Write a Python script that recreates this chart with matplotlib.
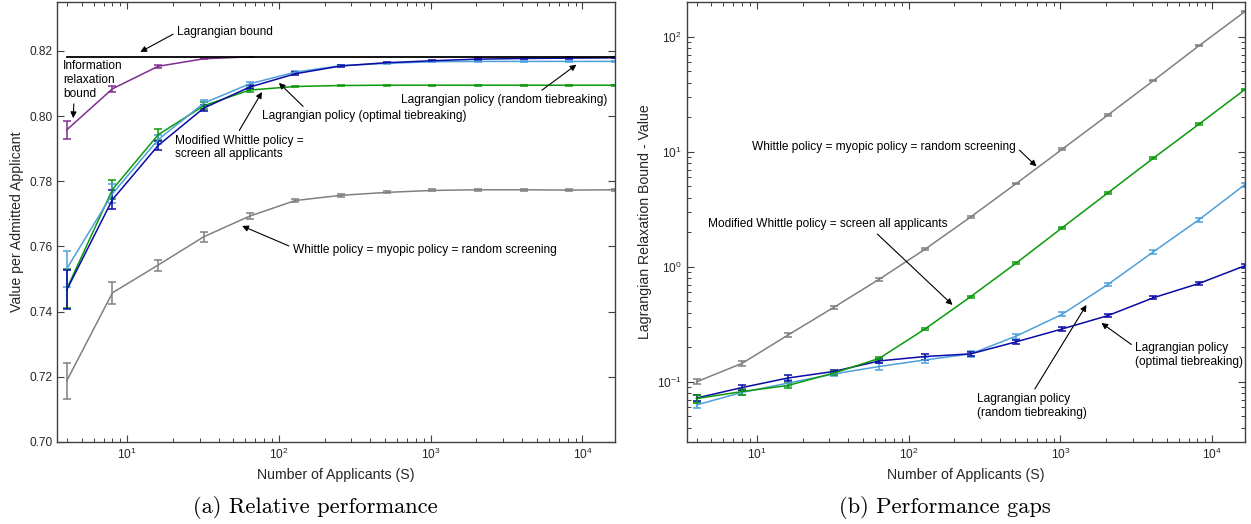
import matplotlib
matplotlib.use("Agg")
import matplotlib.pyplot as plt
import numpy as np

plt.rcParams['font.family'] = ['Liberation Sans', 'DejaVu Sans']
plt.rcParams['mathtext.fontset'] = 'custom'
plt.rcParams['mathtext.rm'] = 'Liberation Sans'
plt.rcParams['mathtext.it'] = 'Liberation Sans:italic'
plt.rcParams['mathtext.bf'] = 'Liberation Sans:bold'

# ---------------- data ----------------
S = [4, 8, 16, 32, 64, 128, 256, 512, 1024, 2048, 4096, 8192, 16384]

# panel (a): value per admitted applicant
S_info = [4, 8, 16, 32, 64]
info_bound = [0.7958, 0.8084, 0.8153, 0.8176, 0.8182]
info_err = [0.0028, 0.0010, 0.0005, 0.0002, 0.0001]
lagr_bound = 0.8182

mod_whittle_a = [0.7470, 0.7775, 0.7943, 0.8032, 0.8080, 0.8091, 0.8094, 0.8095, 0.8095, 0.8095, 0.8095, 0.8095, 0.8095]
mod_whittle_a_err = [0.0060, 0.0030, 0.0017, 0.0010, 0.0005, 0.0003, 0.0002, 0.0002, 0.0002, 0.0002, 0.0002, 0.0002, 0.0002]
lagr_opt_a = [0.7467, 0.7744, 0.7910, 0.8025, 0.8089, 0.8130, 0.8154, 0.8164, 0.8170, 0.8175, 0.8177, 0.8178, 0.8179]
lagr_opt_a_err = [0.0060, 0.0030, 0.0015, 0.0010, 0.0006, 0.0004, 0.0002, 0.0002, 0.0002, 0.0002, 0.0002, 0.0002, 0.0002]
lagr_rand_a = [0.7532, 0.7762, 0.7928, 0.8040, 0.8099, 0.8135, 0.8155, 0.8162, 0.8167, 0.8168, 0.8168, 0.8168, 0.8168]
lagr_rand_a_err = [0.0055, 0.0030, 0.0015, 0.0010, 0.0007, 0.0004, 0.0002, 0.0002, 0.0002, 0.0002, 0.0002, 0.0002, 0.0002]
whittle_a = [0.7188, 0.7458, 0.7543, 0.7630, 0.7693, 0.7741, 0.7757, 0.7766, 0.7772, 0.7774, 0.7774, 0.7773, 0.7774]
whittle_a_err = [0.0055, 0.0033, 0.0017, 0.0015, 0.0010, 0.0006, 0.0004, 0.0003, 0.0003, 0.0003, 0.0003, 0.0003, 0.0003]

# panel (b): Lagrangian relaxation bound - value
whittle_b = [0.100, 0.145, 0.255, 0.443, 0.78, 1.42, 2.71, 5.3, 10.5, 20.8, 41.5, 83.6, 165.0]
whittle_b_err = [0.005, 0.007, 0.010, 0.015, 0.020, 0.030, 0.050, 0.10, 0.20, 0.30, 0.60, 1.2, 2.0]
mod_whittle_b = [0.0715, 0.0824, 0.093, 0.119, 0.160, 0.288, 0.55, 1.08, 2.18, 4.38, 8.8, 17.4, 34.7]
mod_whittle_b_err = [0.006, 0.005, 0.005, 0.005, 0.006, 0.008, 0.012, 0.02, 0.04, 0.07, 0.13, 0.25, 0.5]
lagr_rand_b = [0.063, 0.081, 0.0975, 0.117, 0.136, 0.155, 0.175, 0.25, 0.386, 0.70, 1.35, 2.57, 5.17]
lagr_rand_b_err = [0.004, 0.004, 0.006, 0.005, 0.010, 0.010, 0.010, 0.012, 0.015, 0.025, 0.05, 0.10, 0.20]
lagr_opt_b = [0.0723, 0.0893, 0.108, 0.123, 0.152, 0.166, 0.175, 0.223, 0.288, 0.376, 0.538, 0.717, 1.02]
lagr_opt_b_err = [0.004, 0.005, 0.006, 0.005, 0.006, 0.010, 0.008, 0.010, 0.012, 0.012, 0.018, 0.02, 0.04]

yticks_a = [0.70, 0.72, 0.74, 0.76, 0.78, 0.80, 0.82]

# ---------------- style ----------------
C_PURPLE = '#7e2f8e'
C_GREEN = '#0a9a0a'
C_DBLUE = '#0a0aa5'
C_LBLUE = '#4da0dc'
C_GRAY = '#808080'
AX_COLOR = '#262626'
FS = 8.6
FS_LABEL = 10.2
LW = 1.1

fig = plt.figure(figsize=(12.51, 5.24), dpi=100)
axa = fig.add_axes([0.0456, 0.1565, 0.446, 0.8395])
axb = fig.add_axes([0.549, 0.1565, 0.446, 0.8395])


def style_axis(ax):
    ax.set_xscale('log')
    ax.set_xlim(3.45, 16384)
    for sp in ax.spines.values():
        sp.set_color('#404040')
        sp.set_linewidth(1.0)
    ax.tick_params(which='both', direction='in', top=True, right=True,
                   colors='#404040', labelcolor=AX_COLOR, labelsize=FS)
    ax.tick_params(which='major', length=5, width=0.8)
    ax.tick_params(which='minor', length=2.8, width=0.7)
    ax.set_xlabel('Number of Applicants (S)', fontsize=FS_LABEL, color=AX_COLOR, labelpad=4)


def eb(ax, x, y, e, color, z=2):
    ax.errorbar(x, y, yerr=e, color=color, lw=LW, capsize=3, capthick=LW,
                elinewidth=LW, zorder=z)


# ---- panel (a) ----
style_axis(axa)
axa.set_ylim(0.70, 0.835)
axa.set_yticks(yticks_a)
axa.set_yticklabels([f'{v:.2f}' for v in yticks_a])
axa.set_ylabel('Value per Admitted Applicant', fontsize=FS_LABEL, color=AX_COLOR, labelpad=4)

axa.plot([S[0], S[-1]], [lagr_bound, lagr_bound], color='black', lw=1.3, zorder=3)
eb(axa, S_info, info_bound, info_err, C_PURPLE)
eb(axa, S, whittle_a, whittle_a_err, C_GRAY)
eb(axa, S, mod_whittle_a, mod_whittle_a_err, C_GREEN)
eb(axa, S, lagr_rand_a, lagr_rand_a_err, C_LBLUE)
eb(axa, S, lagr_opt_a, lagr_opt_a_err, C_DBLUE)

arrow = dict(arrowstyle='-|>', color='black', lw=0.8, mutation_scale=9, shrinkA=1, shrinkB=0)


def ann(ax, txt, xy, xytext, ha='left', va='center', relpos=(0, 0.5)):
    ap = dict(arrow)
    ap['relpos'] = relpos
    ax.annotate(txt, xy=xy, xytext=xytext, ha=ha, va=va, fontsize=FS,
                color='black', arrowprops=ap, zorder=5)


ann(axa, 'Lagrangian bound', (12.2, 0.8197), (21.3, 0.8258), relpos=(0, 0.5))
ann(axa, 'Information\nrelaxation\nbound', (4.41, 0.7994), (3.79, 0.8111), relpos=(0.18, 0))
ann(axa, 'Lagrangian policy (optimal tiebreaking)', (100, 0.8102), (77.3, 0.8000), relpos=(0.22, 1))
ann(axa, 'Lagrangian policy (random tiebreaking)', (9120, 0.8158), (635, 0.8050), relpos=(0.66, 1))
ann(axa, 'Modified Whittle policy =\nscreen all applicants', (77.3, 0.8074), (20.7, 0.7904), relpos=(0.48, 1))
ann(axa, 'Whittle policy = myopic policy = random screening', (57.2, 0.7663), (123.6, 0.7589), relpos=(0, 0.7))

# ---- panel (b) ----
style_axis(axb)
axb.set_yscale('log')
axb.set_ylim(0.03, 200)
axb.tick_params(which='both', labelsize=FS)
axb.set_ylabel('Lagrangian Relaxation Bound - Value', fontsize=FS_LABEL, color=AX_COLOR, labelpad=4)

eb(axb, S, whittle_b, whittle_b_err, C_GRAY)
eb(axb, S, lagr_rand_b, lagr_rand_b_err, C_LBLUE)
eb(axb, S, lagr_opt_b, lagr_opt_b_err, C_DBLUE)
eb(axb, S, mod_whittle_b, mod_whittle_b_err, C_GREEN)

ann(axb, 'Whittle policy = myopic policy = random screening', (695, 7.46), (9.27, 11.1), relpos=(1, 0.5))
ann(axb, 'Modified Whittle policy = screen all applicants', (194.5, 0.466), (4.77, 2.34), relpos=(0.69, 0))
ann(axb, 'Lagrangian policy\n(random tiebreaking)', (1483, 0.466), (284, 0.0619), relpos=(0.5, 1))
ann(axb, 'Lagrangian policy\n(optimal tiebreaking)', (1862, 0.325), (3112, 0.171), relpos=(0, 0.8))

# captions
fig.text(0.2518, 0.032, '(a) Relative performance', ha='center', va='center',
         fontsize=16.2, family='cmr10', color='black')
fig.text(0.7554, 0.032, '(b) Performance gaps', ha='center', va='center',
         fontsize=16.2, family='cmr10', color='black')

fig.savefig('out.png', dpi=100)
